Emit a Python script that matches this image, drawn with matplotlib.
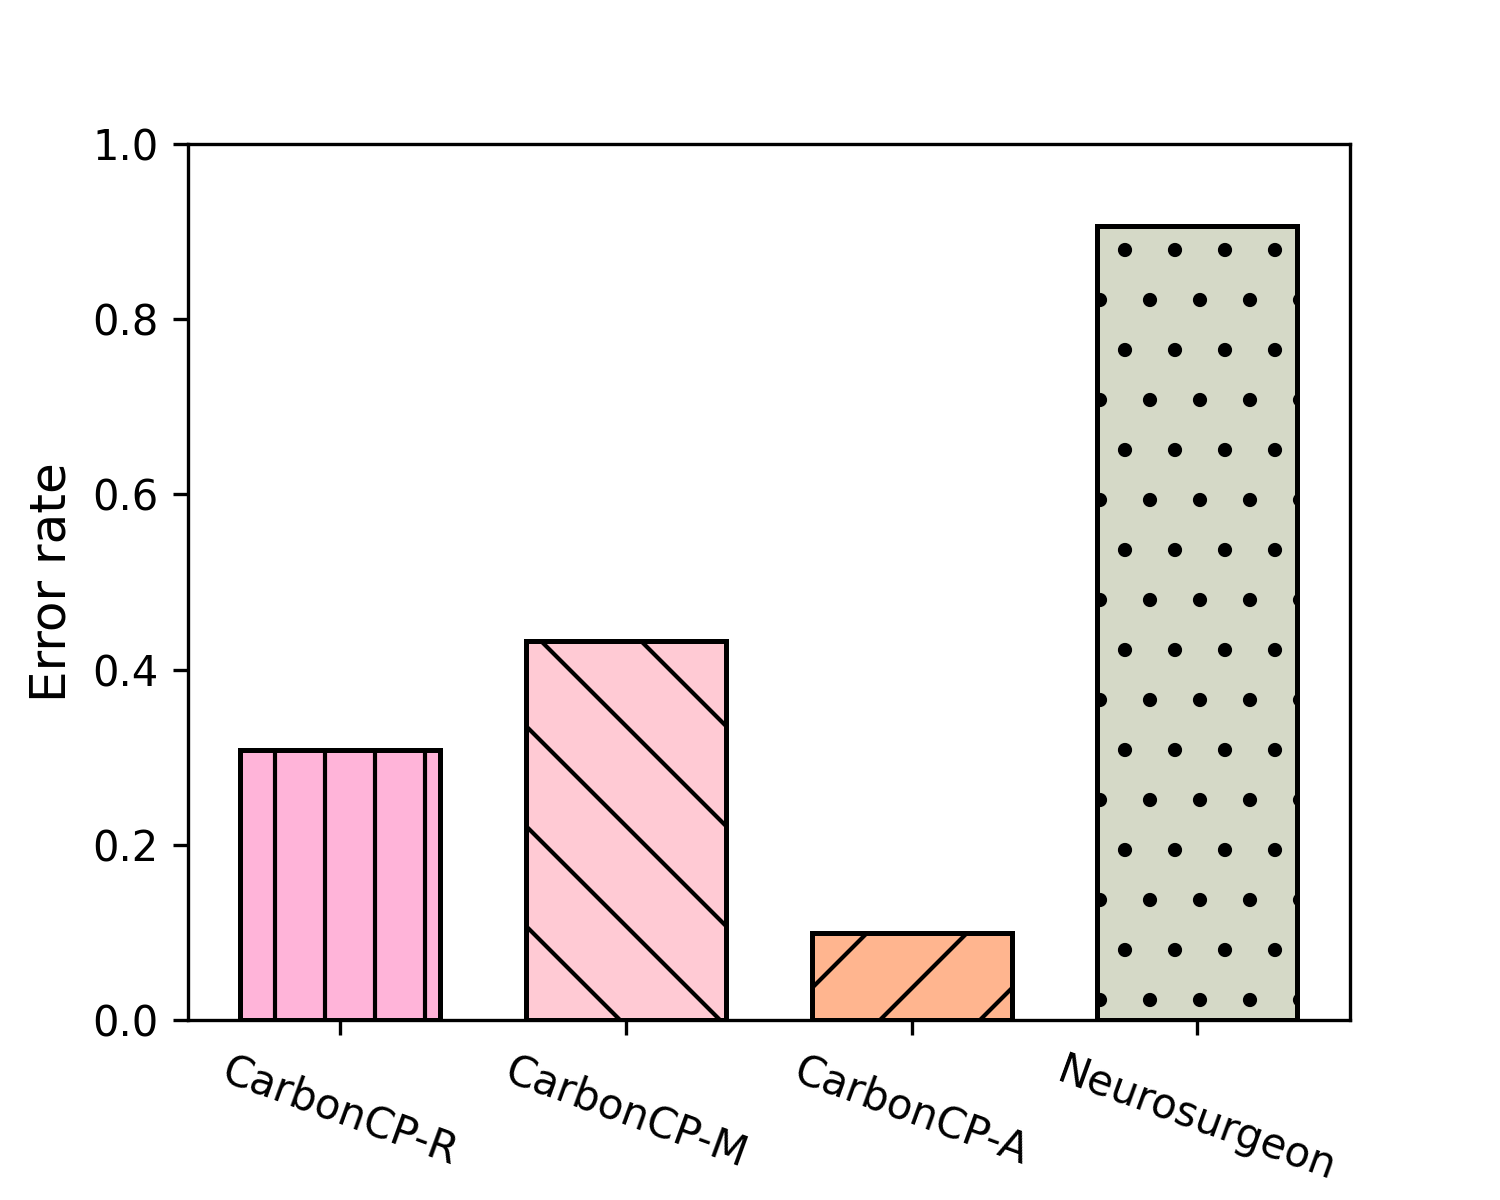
import matplotlib
matplotlib.use("Agg")
import matplotlib.pyplot as plt

categories = ["CarbonCP-R", "CarbonCP-M", "CarbonCP-A", "Neurosurgeon"]
error_rate = [0.308, 0.433, 0.099, 0.906]
colors = ["#FFB4D9", "#FFCAD4", "#FFB58F", "#D5D9C7"]
hatches = ["|", "\\", "/", "."]

fig, ax = plt.subplots(figsize=(5, 4), dpi=300)
fig.subplots_adjust(left=0.125, right=0.9, bottom=0.15, top=0.88)
x = range(len(categories))
bars = ax.bar(x, error_rate, width=0.7, color=colors, edgecolor="black", linewidth=1.2)
for b, h in zip(bars, hatches):
    b.set_hatch(h)
ax.set_ylim(0, 1.0)
ax.set_xticks(list(x))
ax.set_xticklabels(categories, rotation=-20, ha="center", fontsize=10)
ax.set_ylabel("Error rate", fontsize=12)
fig.savefig("out.png", dpi=300)
